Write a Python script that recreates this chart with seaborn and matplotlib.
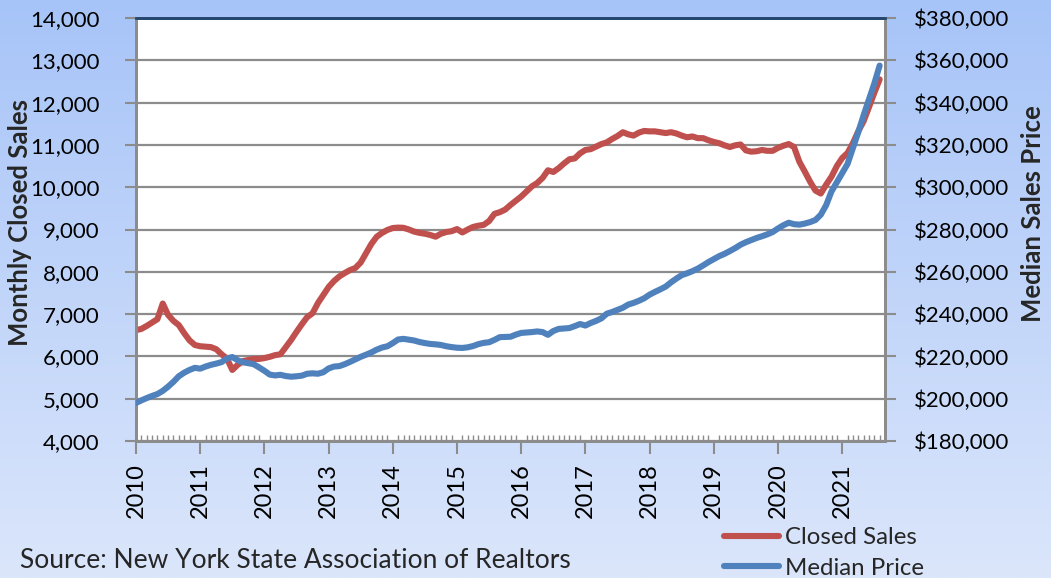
import numpy as np
import pandas as pd
import matplotlib
matplotlib.use("Agg")
import matplotlib.pyplot as plt
import seaborn as sns
from matplotlib.lines import Line2D
from matplotlib.colors import LinearSegmentedColormap

# ---------------- data ----------------
years = ["2010", "2011", "2012", "2013", "2014", "2015", "2016",
         "2017", "2018", "2019", "2020", "2021"]

closed_sales = [
    6620, 6650, 6720, 6800, 6880, 7250, 6980, 6840, 6740, 6550, 6380, 6270,
    6240, 6230, 6220, 6170, 6050, 5950, 5680, 5800, 5890, 5915, 5940, 5940,
    5960, 5990, 6030, 6050, 6220, 6390, 6580, 6760, 6930, 7020, 7260, 7450,
    7640, 7780, 7890, 7970, 8040, 8090, 8220, 8440, 8660, 8830, 8920, 8990,
    9035, 9045, 9040, 9000, 8950, 8920, 8900, 8870, 8830, 8900, 8940, 8960,
    9010, 8930, 9000, 9060, 9090, 9110, 9200, 9370, 9410, 9470, 9580, 9680,
    9780, 9900, 10020, 10100, 10220, 10400, 10360, 10450, 10560, 10660, 10680, 10800,
    10880, 10900, 10960, 11020, 11060, 11140, 11210, 11300, 11250, 11220, 11290, 11330,
    11320, 11320, 11300, 11280, 11300, 11270, 11220, 11180, 11200, 11160, 11160, 11110,
    11070, 11040, 10990, 10950, 10990, 11010, 10870, 10840, 10850, 10880, 10860, 10860,
    10930, 10980, 11020, 10950, 10600, 10370, 10130, 9920, 9850, 10060, 10250, 10500,
    10690, 10810, 11040, 11320, 11560, 11890, 12230, 12550,
]

median_price = [
    198000, 199200, 200300, 201300, 202200, 203700, 205700, 208000, 210600, 212300, 213600, 214600,
    214200, 215200, 216000, 216600, 217300, 219000, 219700, 218200, 217200, 216800, 216300, 214800,
    213200, 211400, 211000, 211300, 210700, 210400, 210600, 210900, 211800, 212000, 211800, 212500,
    214300, 215200, 215400, 216300, 217400, 218600, 219800, 220800, 221900, 223200, 224200, 224800,
    226300, 228000, 228300, 227900, 227500, 226800, 226300, 225900, 225700, 225400, 224800, 224400,
    224100, 224000, 224300, 224900, 225800, 226400, 226700, 227800, 229100, 229200, 229300, 230300,
    231100, 231300, 231500, 231800, 231500, 230200, 232000, 233000, 233200, 233400, 234300, 235300,
    234600, 235800, 236800, 238000, 240200, 241000, 242000, 243000, 244500, 245300, 246300, 247500,
    249200, 250500, 251700, 253000, 255000, 256800, 258400, 259300, 260300, 261500, 263000, 264600,
    266000, 267400, 268500, 269800, 271200, 272800, 274000, 275000, 276000, 276800, 277700, 278800,
    280500, 282000, 283200, 282500, 282300, 282800, 283500, 284500, 287000, 291500, 298000, 302300,
    306500, 311000, 318500, 326000, 334000, 341500, 349000, 357500,
]

left_ticks = [4000, 5000, 6000, 7000, 8000, 9000, 10000, 11000, 12000, 13000, 14000]
right_ticks = [180000, 200000, 220000, 240000, 260000, 280000, 300000, 320000,
               340000, 360000, 380000]

df = pd.DataFrame({
    "month": np.arange(len(closed_sales)),
    "Closed Sales": closed_sales,
    "Median Price": median_price,
})

# ---------------- style ----------------
sns.set_theme(style="white")
plt.rcParams["font.family"] = ["Lato", "DejaVu Sans"]

RED = "#C0504D"
BLUE = "#4F81BD"
GRID = "#8c8c8c"

W, H = 1051, 578
fig = plt.figure(figsize=(W / 100, H / 100), dpi=100)

# gradient background
bg = fig.add_axes([0, 0, 1, 1], zorder=-10)
cmap = LinearSegmentedColormap.from_list("bg", ["#a7c4f8", "#dbe6fb"])
bg.imshow(np.linspace(0, 1, 256).reshape(-1, 1), aspect="auto", cmap=cmap,
          extent=[0, 1, 0, 1])
bg.set_axis_off()

ax = fig.add_axes([136 / W, 1 - 441 / H, 749 / W, 423 / H])
ax.set_facecolor("white")
ax2 = ax.twinx()

sns.lineplot(data=df, x="month", y="Closed Sales", ax=ax, color=RED, lw=4.4,
             solid_capstyle="round", solid_joinstyle="round", zorder=3)
sns.lineplot(data=df, x="month", y="Median Price", ax=ax2, color=BLUE, lw=4.4,
             solid_capstyle="round", solid_joinstyle="round", zorder=3)

ax.set_xlim(0, 140)
ax.set_ylim(4000, 14000)
ax2.set_ylim(180000, 380000)

ax.set_yticks(left_ticks)
ax.set_yticklabels([f"{v:,}" for v in left_ticks])
ax2.set_yticks(right_ticks)
ax2.set_yticklabels([f"${v:,}" for v in right_ticks])

ax.set_xticks(np.arange(0, 12 * len(years), 12))
ax.set_xticklabels(years, rotation=90)
ax.set_xticks(np.arange(0, 141, 1), minor=True)

ax.grid(axis="y", color=GRID, lw=1.6)
ax.grid(axis="x", visible=False)
ax2.grid(False)
ax.set_axisbelow(True)

ax.tick_params(axis="y", which="major", direction="out", length=8, width=1.5,
               color=GRID, labelsize=16, pad=18, left=True, labelcolor="black")
ax2.tick_params(axis="y", which="major", direction="out", length=8, width=1.5,
                color=GRID, labelsize=16, pad=13, right=True, labelcolor="black")
ax.tick_params(axis="x", which="major", direction="out", length=9, width=1.5,
               color=GRID, labelsize=17, pad=7, bottom=True, labelcolor="black")
ax.tick_params(axis="x", which="minor", direction="in", length=4, width=1.0,
               color=GRID, bottom=True)

for a in (ax, ax2):
    for side in ("left", "right", "bottom"):
        a.spines[side].set_color(GRID)
        a.spines[side].set_linewidth(2)
    a.spines["top"].set_color("#24486f")
    a.spines["top"].set_linewidth(2)

ax.set_xlabel("")
ax.set_ylabel("")
ax2.set_ylabel("")

fig.text(20 / W, 1 - 222 / H, "Monthly Closed Sales", rotation=90, ha="center",
         va="center", fontsize=18.5, fontweight="bold")
fig.text(1033 / W, 1 - 214 / H, "Median Sales Price", rotation=90, ha="center",
         va="center", fontsize=18.5, fontweight="bold")

fig.text(20 / W, 1 - 561 / H, "Source: New York State Association of Realtors",
         ha="left", va="center", fontsize=19)

handles = [Line2D([], [], color=RED, lw=4.4, solid_capstyle="round"),
           Line2D([], [], color=BLUE, lw=4.4, solid_capstyle="round")]
fig.legend(handles, ["Closed Sales", "Median Price"], loc="upper left",
           bbox_to_anchor=(724 / W, 1 - 527 / H), frameon=False, fontsize=17.3,
           handlelength=2.3, handletextpad=0.25, labelspacing=0.4,
           borderaxespad=0, borderpad=0)

fig.savefig("out.png", dpi=100)
